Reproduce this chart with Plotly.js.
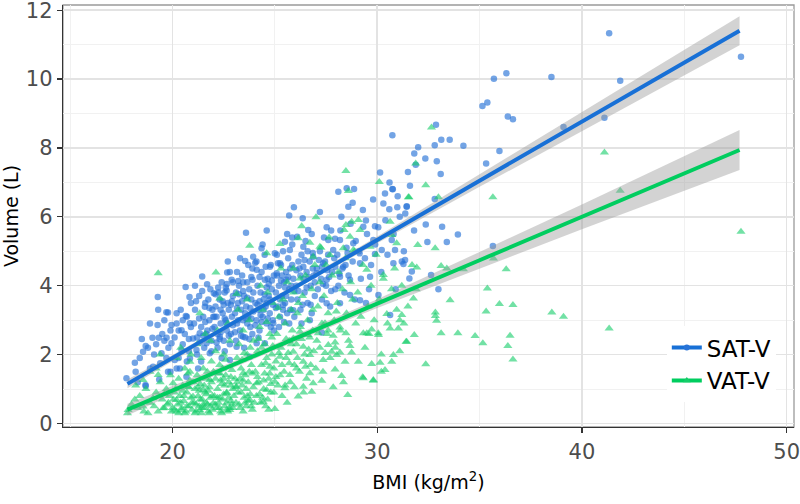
<!DOCTYPE html>
<html><head><meta charset="utf-8">
<script src="https://cdn.plot.ly/plotly-3.0.1.min.js"></script>
<style>html,body{margin:0;padding:0;background:#fff}#chart{width:800px;height:504px}</style>
</head><body><div id="chart"></div>
<script>
const seriesNames = ['SAT-V', 'VAT-V'];

// SAT-V observations [BMI, volume L]
const satPoints = [
[41.33,11.33],[47.77,10.65],[38.51,10.06],[41.87,9.95],[35.70,10.01],[36.31,10.17],[35.14,9.22],[35.38,9.32],[36.38,8.91],[36.63,8.83],[41.1,8.88],[39.1,8.61],[32.87,8.67],[33.13,8.24],[33.54,8.24],[32.81,8.08],[32.0,8.02],[31.81,7.84],[32.35,7.69],[34.21,8.06],[32.91,7.61],[31.88,7.51],[35.97,7.91],[35.32,7.55],[33.1,7.24],[32.81,6.52],[31.44,6.29],[31.37,6.10],[32.37,5.78],[33.17,5.71],[33.94,5.49],[32.45,5.27],[33.40,5.27],[35.65,5.15],
[31.2,4.7],[31.28,4.63],[31.69,4.41],[31.57,4.21],[32.63,4.31],[32.99,3.90],
[23.59,5.54],[23.55,4.72],[24.04,4.67],[23.94,4.84],[24.11,4.46],[22.67,4.38],[21.45,4.27],[21.69,4.04],[20.64,3.96],[20.83,3.67],[19.28,3.67],[22.89,4.17],[23.21,4.14],[22.02,3.78],[22.23,3.95],[22.64,3.86],[23.91,4.17],[21.58,3.39],
[19.78,3.22],[20.2,3.2],[19.27,2.86],[19.95,2.86],[20.85,2.91],[20.65,3.12],[19.02,2.49],[19.33,2.49],[19.71,2.49],[18.69,2.25],[18.56,2.08],[18.16,1.76],[17.75,1.31],[18.69,1.09],[19.35,1.28],[19.05,1.65],[19.46,2.04],[19.95,2.33],[20.44,2.13],[20.11,1.84],[19.78,1.50],[20.36,1.60],[20.85,1.89],[21.17,2.13],[21.33,2.62],[21.66,2.33],[21.82,2.04],[22.31,2.52],[21.0,2.47],[20.44,2.71],[21.99,3.10],[22.64,2.91],[23.13,2.23],[22.8,1.84],[23.45,2.52],[23.78,1.94],[24.11,2.33],[20.68,1.36],[21.25,1.60],
[30.14,7.29],[28.1,6.73],[28.51,6.83],[28.87,6.81],[28.80,6.41],[28.59,6.29],[30.38,6.68],[30.76,6.80],[30.30,6.39],[30.59,6.22],[30.98,6.28],[31.44,6.31],[25.93,6.28],[25.70,6.04],[27.2,6.14],[26.36,5.96],[24.6,5.60],[26.63,5.62],[27.53,5.70],[29.45,5.89],[29.32,5.71],[29.89,5.73],[25.85,5.40],[25.49,5.28],[26.09,5.42],[27.61,5.33],[27.94,5.36],[28.18,5.33],[25.0,4.94],[25.73,5.04],[26.39,5.13],[28.83,5.23],[29.81,5.33],[30.22,5.04],[30.71,5.33],[30.87,5.04],[30.79,4.65],[31.36,4.75],[29.89,4.92],[29.14,4.94],[27.85,5.04],[26.87,4.84],[25.25,4.65],[24.76,4.55],[26.39,4.55],[27.36,4.65],[28.34,4.55],[29.16,4.65],[24.35,5.09],[25.09,4.36],[25.57,4.17],[27.04,4.36],[27.53,4.17],[28.18,4.26],[28.67,4.17],[29.65,4.26],[24.51,4.17],[30.74,8.37],[30.74,6.81],
[30.06,3.73],[30.63,3.15],[29.16,3.58],[28.67,3.73],[27.29,2.64],[26.71,3.0],[25.90,3.29],[25.41,3.44],[24.60,3.49],[24.92,2.91],[24.51,2.33],[27.53,3.49],[28.18,3.49],[19.7,3.23],[18.68,1.12],
[18.2,1.5],[18.4,1.9],[18.8,2.2],[18.9,1.6],[18.5,2.45],[18.3,1.2],[18.9,2.9],
[19.1,2.0],[19.2,2.3],[19.4,1.75],[19.5,2.6],[19.6,3.0],[19.7,1.9],[19.8,2.2],[19.9,2.7],[19.9,1.5],[19.3,3.3],[19.6,2.4],
[20.1,2.5],[20.2,2.9],[20.3,1.9],[20.4,3.3],[20.5,2.3],[20.6,2.6],[20.7,3.1],[20.8,2.1],[20.9,2.8],[20.9,3.5],[20.2,1.6],[20.5,3.0],[20.7,1.8],[20.3,2.7],[20.8,2.45],
[21.05,2.9],[21.1,3.3],[21.2,2.5],[21.3,3.7],[21.4,2.8],[21.5,3.1],[21.55,2.2],[21.6,3.5],[21.7,2.7],[21.8,3.0],[21.85,3.9],[21.9,2.4],[21.95,3.3],[21.2,2.0],[21.4,1.8],[21.6,2.95],[21.75,3.6],[21.1,4.0],[21.5,2.55],[21.9,2.1],[21.3,3.05],
[22.05,2.8],[22.1,3.4],[22.15,3.1],[22.2,2.6],[22.3,3.6],[22.35,2.9],[22.4,4.1],[22.45,3.2],[22.5,2.4],[22.55,3.8],[22.6,3.0],[22.65,2.7],[22.7,3.5],[22.75,3.3],[22.8,4.4],[22.85,2.6],[22.9,3.1],[22.95,3.7],[22.2,2.2],[22.4,1.9],[22.5,3.45],[22.6,3.95],[22.8,2.3],[22.1,3.75],[22.3,2.45],[22.7,4.7],[22.9,3.55],[22.35,3.3],[22.95,2.85],[22.55,2.1],
[23.05,3.2],[23.1,3.8],[23.15,2.9],[23.2,3.5],[23.25,4.0],[23.3,2.7],[23.35,3.3],[23.4,4.3],[23.45,3.0],[23.5,3.7],[23.55,2.5],[23.6,3.4],[23.65,4.1],[23.7,3.1],[23.75,3.9],[23.8,2.8],[23.85,3.6],[23.9,4.5],[23.95,3.25],[23.1,2.4],[23.3,4.8],[23.5,2.2],[23.6,3.05],[23.7,4.6],[23.2,3.0],[23.4,3.55],[23.8,3.35],[23.9,2.6],[23.15,4.4],[23.65,2.9],[23.45,3.85],[23.85,4.25],
[24.05,3.5],[24.1,3.0],[24.15,4.0],[24.2,3.3],[24.25,2.7],[24.3,3.8],[24.35,4.4],[24.4,3.1],[24.45,3.6],[24.5,4.9],[24.55,3.4],[24.6,2.9],[24.65,4.2],[24.7,3.7],[24.75,3.2],[24.8,4.6],[24.85,3.9],[24.9,3.45],[24.95,4.3],[24.2,2.5],[24.4,5.2],[24.6,3.95],[24.8,2.8],[24.3,3.15],[24.9,3.0],[24.1,4.7],[24.5,3.75],[24.7,4.05],[24.25,3.55],
[25.05,3.8],[25.1,4.3],[25.15,3.4],[25.2,4.0],[25.25,3.1],[25.3,4.6],[25.35,3.7],[25.4,5.0],[25.45,4.1],[25.5,3.5],[25.55,4.4],[25.6,3.2],[25.65,4.8],[25.7,3.9],[25.75,4.5],[25.8,3.6],[25.85,5.2],[25.9,4.2],[25.95,3.85],[25.2,2.8],[25.4,3.3],[25.6,5.5],[25.8,4.0],[25.3,4.15],[25.7,2.9],[25.1,4.9],[25.5,3.95],
[26.05,4.0],[26.1,3.6],[26.2,4.5],[26.25,3.3],[26.3,4.9],[26.4,4.2],[26.45,3.8],[26.5,5.3],[26.55,4.4],[26.6,3.5],[26.7,4.7],[26.75,4.0],[26.8,5.5],[26.9,4.3],[26.95,3.7],[26.3,2.9],[26.6,5.0],[26.8,3.2],[26.15,4.7],[26.85,4.95],
[27.05,4.5],[27.1,3.9],[27.2,5.0],[27.25,4.2],[27.3,3.6],[27.4,5.4],[27.45,4.7],[27.5,4.0],[27.6,4.9],[27.7,3.4],[27.75,5.6],[27.8,4.4],[27.9,4.8],[27.95,3.9],[27.3,4.55],[27.65,4.25],
[28.05,4.9],[28.1,4.0],[28.2,5.6],[28.3,4.5],[28.4,3.8],[28.5,5.1],[28.6,4.3],[28.7,5.8],[28.8,4.7],[28.9,3.6],[28.95,5.3],[28.25,6.0],[28.55,4.95],
[29.1,5.0],[29.2,4.2],[29.3,6.2],[29.4,4.8],[29.5,5.5],[29.6,3.9],[29.7,4.6],[29.8,6.5],[29.9,5.2],[29.45,3.5],
[30.05,5.7],[30.2,4.4],[30.4,5.9],[30.5,4.9],[30.6,7.0],[30.8,5.5],[30.9,3.9],
[31.1,6.0],[31.3,5.0],[31.6,6.9],[31.8,5.6],[31.5,7.3],[31.0,6.6],
[21.15,3.55],[21.35,2.35],[21.45,3.85],[21.65,2.6],[21.8,3.35],[21.95,2.75],[22.05,3.1],[22.15,2.35],[22.25,3.8],[22.35,2.65],[22.45,3.55],[22.55,3.05],[22.65,4.05],[22.75,2.55],[22.85,3.45],[22.95,4.1],[23.05,2.65],[23.15,3.35],[23.25,3.75],[23.35,2.55],[23.45,4.1],[23.55,3.2],[23.65,3.65],[23.75,2.45],[23.85,3.05],[23.95,3.8],[24.05,2.85],[24.15,3.45],[24.25,4.25],[24.35,2.95],[24.45,3.3],[24.55,4.55],[24.65,3.05],[24.75,3.6],[24.85,4.15],[24.95,2.7],[25.05,3.35],[25.15,4.65],[25.25,3.6],[25.35,4.3],[25.45,2.95],[25.55,3.7],[25.65,4.25],[25.75,3.3],[25.85,4.6],[25.95,3.1],[26.05,4.45],[26.15,3.85],[26.25,4.3],[26.35,3.45],[26.45,4.75],[26.55,3.95],[26.65,4.25],[26.75,3.45],[26.85,4.5],[26.95,4.1],[27.15,4.75],[27.35,4.05],[27.55,4.45],[27.75,3.85],[27.95,4.55],[28.15,4.35],[28.45,4.6]
];

// VAT-V observations [BMI, volume L]
const vatPoints = [
[32.65,8.59],[31.88,7.55],[41.1,7.87],[32.37,6.92],[31.55,6.57],[32.99,6.57],[35.65,6.57],[41.87,6.76],[47.77,5.57],[31.98,5.18],[32.83,5.09],
[31.93,4.53],[33.12,4.57],[33.4,4.5],[34.21,4.48],[35.68,4.79],[36.30,4.48],[35.38,3.92],[33.56,3.58],[31.77,3.63],[35.97,3.47],[36.63,3.44],[35.32,3.25],[32.84,3.22],[32.84,3.12],[32.9,2.98],[38.53,3.22],[39.1,3.10],[41.33,2.76],[31.81,2.57],[33.12,2.62],[33.94,2.62],[34.78,2.54],[35.16,2.33],[36.49,2.55],[36.38,2.25],[36.63,1.86],[32.37,1.72],[31.41,2.37],[31.1,3.0],[31.1,2.1],
[19.3,4.36],[22.12,4.38],[23.77,5.16],[22.31,3.63],[23.13,3.76],
[21.33,3.2],[18.56,1.26],[19.3,1.41],[18.16,0.70],[17.83,0.39],[18.56,0.49],[19.05,0.73],[19.54,0.44],[20.03,1.17],[20.2,0.68],[20.85,1.50],[20.76,1.07],[21.0,0.78],[21.5,0.97],[21.82,1.26],[22.31,1.46],[21.99,0.59],[21.33,0.39],[22.64,0.88],[23.13,1.07],[23.45,1.46],[23.78,0.68],[22.8,0.39],[24.11,1.17],[20.44,0.39],[20.85,1.79],
[28.47,7.33],[28.59,6.75],[30.10,7.01],[31.52,6.57],[27.01,5.99],[26.31,5.73],[28.47,5.76],[28.75,5.86],[29.08,5.91],[29.16,5.62],[28.38,5.62],[28.67,5.42],[30.63,5.86],[30.71,5.47],[26.71,5.25],[26.14,5.38],[25.25,5.21],[24.6,4.94],[27.2,5.13],[28.34,5.09],[28.83,5.04],[29.65,5.13],[30.95,5.23],[26.87,4.84],[27.69,4.89],[25.9,4.50],[29.49,4.46],[30.30,4.31],[26.23,4.21],
[28.18,2.79],[28.47,2.62],[29.49,2.62],[29.73,2.73],[30.06,2.57],[30.47,3.18],[31.2,3.15],[31.44,2.37],[27.94,2.35],[27.61,2.28],[28.67,2.25],[26.71,1.99],[27.77,2.08],[28.18,2.06],[28.75,2.06],[27.36,1.84],[28.02,1.99],[28.43,1.79],[29.08,1.79],[29.73,1.73],[30.14,1.76],[30.79,1.99],[30.71,1.79],[30.38,1.55],[27.94,1.57],[28.26,1.38],[27.29,1.24],[26.87,1.17],[26.39,1.07],[27.85,1.05],[28.56,0.83],[29.29,1.34],[29.81,1.24],[26.14,0.78],[25.0,0.42],[26.39,1.79],[26.06,1.60],[25.90,2.08],[25.73,1.41],[25.49,1.02],[26.71,1.46],[25.0,1.21],[24.6,0.97],[24.43,0.63],[25.25,1.94],[24.76,1.65],[26.39,2.23],[25.90,2.47],[26.63,2.57],[27.12,2.62],[26.23,2.66],[27.45,2.91],
[30.63,2.76],[31.03,2.76],[29.32,2.62],[30.05,2.62],[30.2,1.5],[29.81,1.26],[29.32,1.31],[26.8,0.92],
[17.8,0.3],[18.0,0.55],[18.3,0.45],[18.4,0.8],[18.6,0.35],[18.7,1.0],[18.9,0.6],[18.2,1.1],[18.8,0.3],[18.9,1.5],
[19.1,0.5],[19.2,0.9],[19.3,0.35],[19.4,1.2],[19.5,0.7],[19.6,0.45],[19.7,1.0],[19.8,0.6],[19.9,1.4],[19.95,0.35],[19.2,1.6],[19.6,0.85],[19.4,2.0],
[20.05,0.7],[20.1,0.4],[20.15,1.0],[20.25,0.55],[20.3,1.3],[20.35,0.8],[20.45,0.45],[20.5,1.1],[20.55,0.65],[20.6,1.6],[20.65,0.35],[20.7,0.9],[20.8,0.5],[20.85,1.25],[20.9,0.75],[20.95,0.4],[20.2,1.9],[20.4,2.2],[20.6,0.3],[20.75,1.45],[20.3,0.3],[20.5,0.95],[20.9,2.0],
[21.05,0.6],[21.1,1.0],[21.15,0.35],[21.2,1.4],[21.25,0.8],[21.3,0.5],[21.35,1.15],[21.4,0.3],[21.45,0.7],[21.5,1.6],[21.55,0.45],[21.6,0.9],[21.65,1.3],[21.7,0.55],[21.75,0.35],[21.8,1.05],[21.85,0.75],[21.9,1.8],[21.95,0.4],[21.2,2.3],[21.4,1.9],[21.6,2.6],[21.8,0.3],[21.3,0.95],[21.7,1.5],[21.5,0.55],[21.9,1.2],[21.1,0.3],[21.65,0.85],[21.85,2.4],
[22.05,0.8],[22.1,1.3],[22.15,0.45],[22.2,1.0],[22.25,0.6],[22.3,1.7],[22.35,0.35],[22.4,1.15],[22.45,0.7],[22.5,2.0],[22.55,0.5],[22.6,1.4],[22.65,0.9],[22.7,0.35],[22.75,1.2],[22.8,2.4],[22.85,0.65],[22.9,1.55],[22.95,1.0],[22.2,2.7],[22.4,0.3],[22.6,1.85],[22.8,0.45],[22.3,0.75],[22.5,1.3],[22.7,2.9],[22.9,0.55],[22.1,2.1],[22.45,1.6],[22.85,1.1],[22.65,0.6],[22.25,1.45],
[23.05,1.3],[23.1,0.6],[23.15,1.9],[23.2,0.9],[23.25,2.3],[23.3,0.45],[23.35,1.6],[23.4,1.1],[23.45,2.7],[23.5,0.75],[23.55,1.4],[23.6,0.5],[23.65,2.0],[23.7,1.2],[23.75,3.0],[23.8,0.85],[23.85,1.7],[23.9,0.4],[23.95,2.4],[23.2,3.3],[23.4,1.85],[23.6,1.0],[23.8,2.2],[23.3,1.3],[23.7,0.65],[23.5,2.05],[23.9,1.45],[23.1,1.05],[23.65,3.6],[23.45,0.35],
[24.05,1.5],[24.1,0.8],[24.15,2.1],[24.2,1.2],[24.25,2.8],[24.3,0.6],[24.35,1.7],[24.4,3.3],[24.45,1.0],[24.5,2.3],[24.55,0.5],[24.6,1.9],[24.65,3.8],[24.7,1.3],[24.75,2.6],[24.8,0.9],[24.85,2.0],[24.9,3.5],[24.95,1.6],[24.3,4.0],[24.5,1.45],[24.7,0.4],[24.2,2.45],[24.8,1.15],[24.6,2.95],[24.4,0.75],[24.9,2.25],
[25.05,1.8],[25.1,2.6],[25.15,1.1],[25.2,3.1],[25.3,2.2],[25.35,0.8],[25.4,3.6],[25.45,1.5],[25.5,2.9],[25.55,1.9],[25.6,4.1],[25.7,2.4],[25.75,1.2],[25.8,3.3],[25.85,2.7],[25.95,1.7],[25.3,4.5],[25.6,0.6],[25.9,3.8],[25.25,1.4],[25.65,2.05],[25.15,3.35],
[26.05,2.3],[26.1,3.2],[26.2,1.5],[26.25,2.8],[26.35,3.7],[26.45,2.0],[26.5,4.3],[26.55,1.3],[26.6,3.0],[26.7,2.5],[26.8,3.9],[26.9,2.1],[26.95,4.6],[26.4,0.9],[26.75,1.7],[26.15,3.5],[26.85,3.3],
[27.05,2.4],[27.1,3.4],[27.2,4.1],[27.3,2.9],[27.35,1.5],[27.4,3.7],[27.5,4.6],[27.55,2.6],[27.6,3.2],[27.7,1.9],[27.8,4.3],[27.9,3.0],[27.25,5.1],[27.65,5.4],[27.95,2.2],
[28.05,3.5],[28.1,4.4],[28.2,2.7],[28.3,3.9],[28.45,4.8],[28.5,3.2],[28.6,2.4],[28.7,4.1],[28.8,3.6],[28.9,5.0],[28.95,2.9],[28.35,1.2],
[29.05,3.8],[29.2,3.1],[29.3,4.6],[29.4,2.2],[29.55,3.4],[29.7,4.0],[29.85,3.0],[29.95,4.9],[29.6,2.6],
[30.1,3.6],[30.3,4.2],[30.5,2.9],[30.7,3.9],[30.85,4.5],[30.2,2.0],[30.95,3.3],
[31.2,4.0],[31.5,3.4],[31.7,4.6],[31.3,2.9],[31.9,3.9],
[19.75,0.55],[19.85,0.8],[20.0,0.45],[20.1,0.9],[20.2,0.35],[20.4,0.6],[20.55,0.8],[20.7,0.5],[20.8,1.05],[20.95,0.6],[21.0,1.2],[21.15,0.55],[21.25,1.05],[21.35,0.7],[21.45,0.45],[21.55,1.1],[21.65,0.6],[21.75,0.95],[21.85,0.5],[21.95,0.8],[22.0,1.5],[22.1,0.55],[22.2,0.75],[22.3,0.45],[22.35,1.25],[22.5,0.85],[22.55,1.1],[22.65,0.4],[22.75,0.75],[22.85,1.35],[22.95,0.45],[23.0,0.8],[23.15,1.2],[23.25,0.55],[23.35,0.9],[23.45,1.25],[23.55,0.6],[23.65,0.8],[23.75,1.5],[23.85,0.5],[23.95,1.05],[24.0,0.6],[24.15,1.35],[24.25,0.85],[24.35,2.2],[24.45,1.25],[24.55,1.75],[24.65,0.7],[24.75,1.45],[24.85,2.5],[24.95,0.9],[25.05,1.35],[25.2,2.05],[25.35,1.7],[25.5,1.1],[25.55,2.45],[25.7,1.75],[25.8,2.3],[25.95,1.05],[26.1,1.9],[26.3,2.45],[26.5,1.65],[26.65,2.15],[26.85,2.7],[27.0,1.6],[27.2,2.2],[27.45,2.05],[27.6,2.7],[27.85,2.55],[28.0,3.25]
];

// Linear fits with 95% confidence bands
const fitBMI  = [17.8, 20, 22.5, 25, 27.5, 30, 35, 40, 47.7];
const satFit  = [1.15, 1.90, 2.76, 3.62, 4.48, 5.33, 7.05, 8.76, 11.40];
const satLow  = [1.02, 1.81, 2.69, 3.555, 4.405, 5.23, 6.87, 8.49, 10.98];
const satHigh = [1.28, 1.99, 2.83, 3.685, 4.555, 5.43, 7.23, 9.03, 11.82];
const vatFit  = [0.40, 0.96, 1.59, 2.22, 2.85, 3.48, 4.74, 6.00, 7.94];
const vatLow  = [0.23, 0.84, 1.50, 2.135, 2.75, 3.35, 4.50, 5.64, 7.36];
const vatHigh = [0.57, 1.08, 1.68, 2.305, 2.95, 3.61, 4.98, 6.36, 8.52];

const xTicks = [20, 30, 40, 50];
const yTicks = [0, 2, 4, 6, 8, 10, 12];

const satColor = 'rgb(40,115,215)';
const satLine = 'rgb(24,112,214)';
const vatColor = 'rgb(20,205,105)';
const vatLine = 'rgb(0,205,95)';
const FONT = 'DejaVu Sans, sans-serif';

function band(lo, hi, name) {
  return {
    x: fitBMI.concat(fitBMI.slice().reverse()),
    y: hi.concat(lo.slice().reverse()),
    type: 'scatter', mode: 'lines', fill: 'toself',
    fillcolor: 'rgba(150,150,150,0.42)', line: {width: 0},
    hoverinfo: 'skip', showlegend: false, name: name
  };
}

const traces = [
  {x: satPoints.map(p => p[0]), y: satPoints.map(p => p[1]), type: 'scatter', mode: 'markers',
   marker: {symbol: 'circle', size: 6.5, color: satColor, opacity: 0.65, line: {width: 0}},
   showlegend: false, name: seriesNames[0]},
  {x: vatPoints.map(p => p[0]), y: vatPoints.map(p => p[1]), type: 'scatter', mode: 'markers',
   marker: {symbol: 'triangle-up', size: 8, color: vatColor, opacity: 0.6, line: {width: 0}},
   showlegend: false, name: seriesNames[1]},
  band(satLow, satHigh, 'SAT band'),
  band(vatLow, vatHigh, 'VAT band'),
  {x: fitBMI, y: satFit, type: 'scatter', mode: 'lines', line: {color: satLine, width: 4},
   showlegend: false, name: seriesNames[0]},
  {x: fitBMI, y: vatFit, type: 'scatter', mode: 'lines', line: {color: vatLine, width: 4},
   showlegend: false, name: seriesNames[1]},
  {x: [null], y: [null], type: 'scatter', mode: 'lines+markers', name: seriesNames[0],
   line: {color: satLine, width: 4}, marker: {symbol: 'circle', size: 6, color: satColor}},
  {x: [null], y: [null], type: 'scatter', mode: 'lines+markers', name: seriesNames[1],
   line: {color: vatLine, width: 4}, marker: {symbol: 'triangle-up', size: 7, color: vatColor}}
];

const axisCommon = {
  showline: true, linecolor: '#333333', linewidth: 1.3,
  ticks: 'outside', ticklen: 5, tickwidth: 1.3, tickcolor: '#333333',
  showgrid: true, gridcolor: '#e3e3e3', gridwidth: 1.5, zeroline: false,
  tickfont: {family: FONT, size: 21, color: '#4d4d4d'},
  ticklabeloverflow: 'allow'
};

const layout = {
  width: 800, height: 504,
  margin: {l: 63, r: 6, t: 5, b: 77},
  paper_bgcolor: '#ffffff', plot_bgcolor: '#ffffff',
  font: {family: FONT},
  xaxis: Object.assign({}, axisCommon, {
    range: [14.65, 50.36], tickmode: 'array', tickvals: xTicks, ticktext: xTicks.map(String),
    minor: {dtick: 5, tick0: 0, showgrid: true, gridcolor: '#f1f1f1', gridwidth: 1, ticks: ''},
    title: {text: 'BMI (kg/m<sup>2</sup>)', font: {family: FONT, size: 19, color: '#000'}, standoff: 13},
    automargin: false
  }),
  yaxis: Object.assign({}, axisCommon, {
    range: [-0.102, 12.15], tickmode: 'array', tickvals: yTicks, ticktext: yTicks.map(String),
    minor: {dtick: 1, tick0: 0, showgrid: true, gridcolor: '#f1f1f1', gridwidth: 1, ticks: ''},
    title: {text: 'Volume (L)', font: {family: FONT, size: 19, color: '#000'}, standoff: 7},
    automargin: false
  }),
  shapes: [{type: 'rect', xref: 'paper', yref: 'paper', x0: 0, x1: 1, y0: 0, y1: 1,
            line: {color: '#9a9a9a', width: 1.3}, layer: 'between'}],
  legend: {x: 0.826, xanchor: 'left', y: 0.059, yanchor: 'bottom', bgcolor: '#ffffff',
           borderwidth: 0, font: {family: FONT, size: 23, color: '#000'}, itemwidth: 30,
           tracegroupgap: 0},
  showlegend: true
};

Plotly.newPlot('chart', traces, layout, {displayModeBar: false, staticPlot: true});
</script>
</body></html>
